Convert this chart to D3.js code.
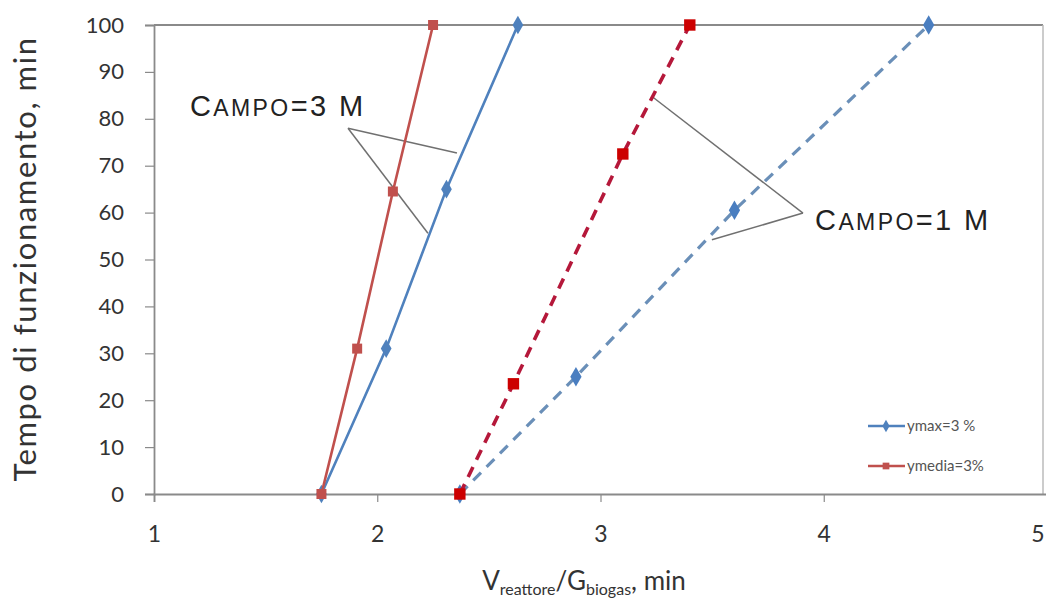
<!DOCTYPE html>
<html><head><meta charset="utf-8">
<script src="https://cdn.jsdelivr.net/npm/d3@7"></script>
<style>body{margin:0;background:#fff}svg{display:block}</style>
</head><body>
<svg id="c" width="1046" height="599"></svg>
<script>
// ---- data ----
const yTicks = [0,10,20,30,40,50,60,70,80,90,100];
const xTicks = [1,2,3,4,5];
const c3_ymax_x   = [1.75, 2.04, 2.31, 2.63];
const c3_ymax_y   = [0, 31, 65, 100];
const c3_ymedia_x = [1.75, 1.91, 2.07, 2.25];
const c3_ymedia_y = [0, 31, 64.5, 100];
const c1_ymedia_x = [2.37, 2.61, 3.10, 3.40];
const c1_ymedia_y = [0, 23.5, 72.5, 100];
const c1_ymax_x   = [2.37, 2.89, 3.60, 4.47];
const c1_ymax_y   = [0, 25, 60.5, 100];
const legendLabels = ["ymax=3 %", "ymedia=3%"];
const yTitle = "Tempo di funzionamento, min";

const svg = d3.select("#c");
const x = d3.scaleLinear().domain([1,5]).range([154,1047]);
const y = d3.scaleLinear().domain([0,100]).range([494,25]);
const axisColor = "#8a8a8a";
const font = "Lato, 'Open Sans', sans-serif";

// frame: top and right border
svg.append("line").attr("x1",x(1)).attr("x2",1043).attr("y1",y(100)).attr("y2",y(100))
  .attr("stroke",axisColor).attr("stroke-width",2);
svg.append("line").attr("x1",1043).attr("x2",1043).attr("y1",y(100)).attr("y2",y(0))
  .attr("stroke","#bbb").attr("stroke-width",1.5);

// y axis
const yAx = svg.append("g").attr("transform",`translate(${x(1)},0)`)
  .call(d3.axisLeft(y).tickValues(yTicks).tickSize(9).tickPadding(21).tickFormat(d3.format("d")));
yAx.select(".domain").attr("stroke",axisColor).attr("stroke-width",1.8);
yAx.selectAll(".tick line").attr("stroke",axisColor).attr("stroke-width",1.2);
yAx.selectAll(".tick text").attr("font-family",font).attr("font-size",22).attr("fill","#333");

// x axis
const xAx = svg.append("g").attr("transform",`translate(0,${y(0)})`)
  .call(d3.axisBottom(x).tickValues(xTicks).tickSize(8).tickPadding(24).tickFormat(d3.format("d")));
xAx.select(".domain").attr("stroke",axisColor).attr("stroke-width",1.8);
xAx.selectAll(".tick line").attr("stroke",axisColor).attr("stroke-width",1.2);
xAx.selectAll(".tick text").attr("font-family",font).attr("font-size",23).attr("fill","#333");
xAx.selectAll(".tick text").filter(d=>d===5).attr("text-anchor","end").attr("dx",-3);

// titles
svg.append("text").attr("transform","translate(36,259) rotate(-90)")
  .attr("text-anchor","middle").attr("font-family",font).attr("font-size",31)
  .attr("letter-spacing",1.6).attr("fill","#333")
  .text(yTitle);
const xt = svg.append("text").attr("x",584).attr("y",590).attr("text-anchor","middle")
  .attr("font-family",font).attr("font-size",26).attr("fill","#333");
xt.append("tspan").text("V");
xt.append("tspan").attr("font-size",16).attr("dy",5).text("reattore");
xt.append("tspan").attr("dy",-5).text("/G");
xt.append("tspan").attr("font-size",16).attr("dy",5).text("biogas");
xt.append("tspan").attr("dy",-5).text(", min");

// annotations (leader lines in data units)
const leaders = [
  [[1.869,78.0],[2.357,72.7]],
  [[1.869,78.0],[2.227,55.6]],
  [[3.907,59.9],[3.235,84.6]],
  [[3.907,59.9],[3.499,54.2]]
];
leaders.forEach(l => svg.append("line")
  .attr("x1",x(l[0][0])).attr("y1",y(l[0][1])).attr("x2",x(l[1][0])).attr("y2",y(l[1][1]))
  .attr("stroke","#707070").attr("stroke-width",1.5));

function campo(xv, yv, num){
  const t = svg.append("text").attr("x",x(xv)).attr("y",y(yv))
    .attr("font-family","'Liberation Sans', Arial, sans-serif").attr("font-size",29)
    .attr("letter-spacing",2.4).attr("fill","#222");
  t.append("tspan").text("C");
  t.append("tspan").attr("font-size",23).text("AMPO");
  t.append("tspan").text("=" + num + " M");
}
campo(1.161, 80.6, "3");
campo(3.961, 56.3, "1");

// series
const line = d3.line().x(d=>x(d[0])).y(d=>y(d[1]));
function series(xs, ys, stroke, width, dash, markerFill, shape, msize){
  const pts = xs.map((v,i)=>[v, ys[i]]);
  svg.append("path").datum(pts).attr("d",line).attr("fill","none")
    .attr("stroke",stroke).attr("stroke-width",width)
    .attr("stroke-dasharray",dash||null);
  svg.selectAll(null).data(pts).enter().append("path")
    .attr("transform",d=>`translate(${x(d[0])},${y(d[1])})`)
    .attr("d",d3.symbol().type(shape).size(msize))
    .attr("fill",markerFill);
}
series(c1_ymax_x, c1_ymax_y, "#6a8fb8", 3.2, "11,8", "#4a7ec0", d3.symbolDiamond, 110);
series(c1_ymedia_x, c1_ymedia_y, "#b5183a", 3.6, "11,8", "#cc0000", d3.symbolSquare, 130);
series(c3_ymax_x, c3_ymax_y, "#4f81bd", 2.6, null, "#4f81bd", d3.symbolDiamond, 100);
series(c3_ymedia_x, c3_ymedia_y, "#c0504d", 2.6, null, "#c0504d", d3.symbolSquare, 100);

// legend
const legColors = ["#4f81bd","#c0504d"];
const legShapes = [d3.symbolDiamond, d3.symbolSquare];
const leg = svg.append("g");
legendLabels.forEach((lab,i)=>{
  const ly = 426 + i*40;
  leg.append("line").attr("x1",868).attr("x2",905).attr("y1",ly).attr("y2",ly)
    .attr("stroke",legColors[i]).attr("stroke-width",2.5);
  leg.append("path").attr("transform",`translate(886,${ly})`)
    .attr("d",d3.symbol().type(legShapes[i]).size(45)).attr("fill",legColors[i]);
  leg.append("text").attr("x",907).attr("y",ly+5).attr("font-family",font)
    .attr("font-size",15).attr("fill","#555").text(lab);
});
</script>
</body></html>
